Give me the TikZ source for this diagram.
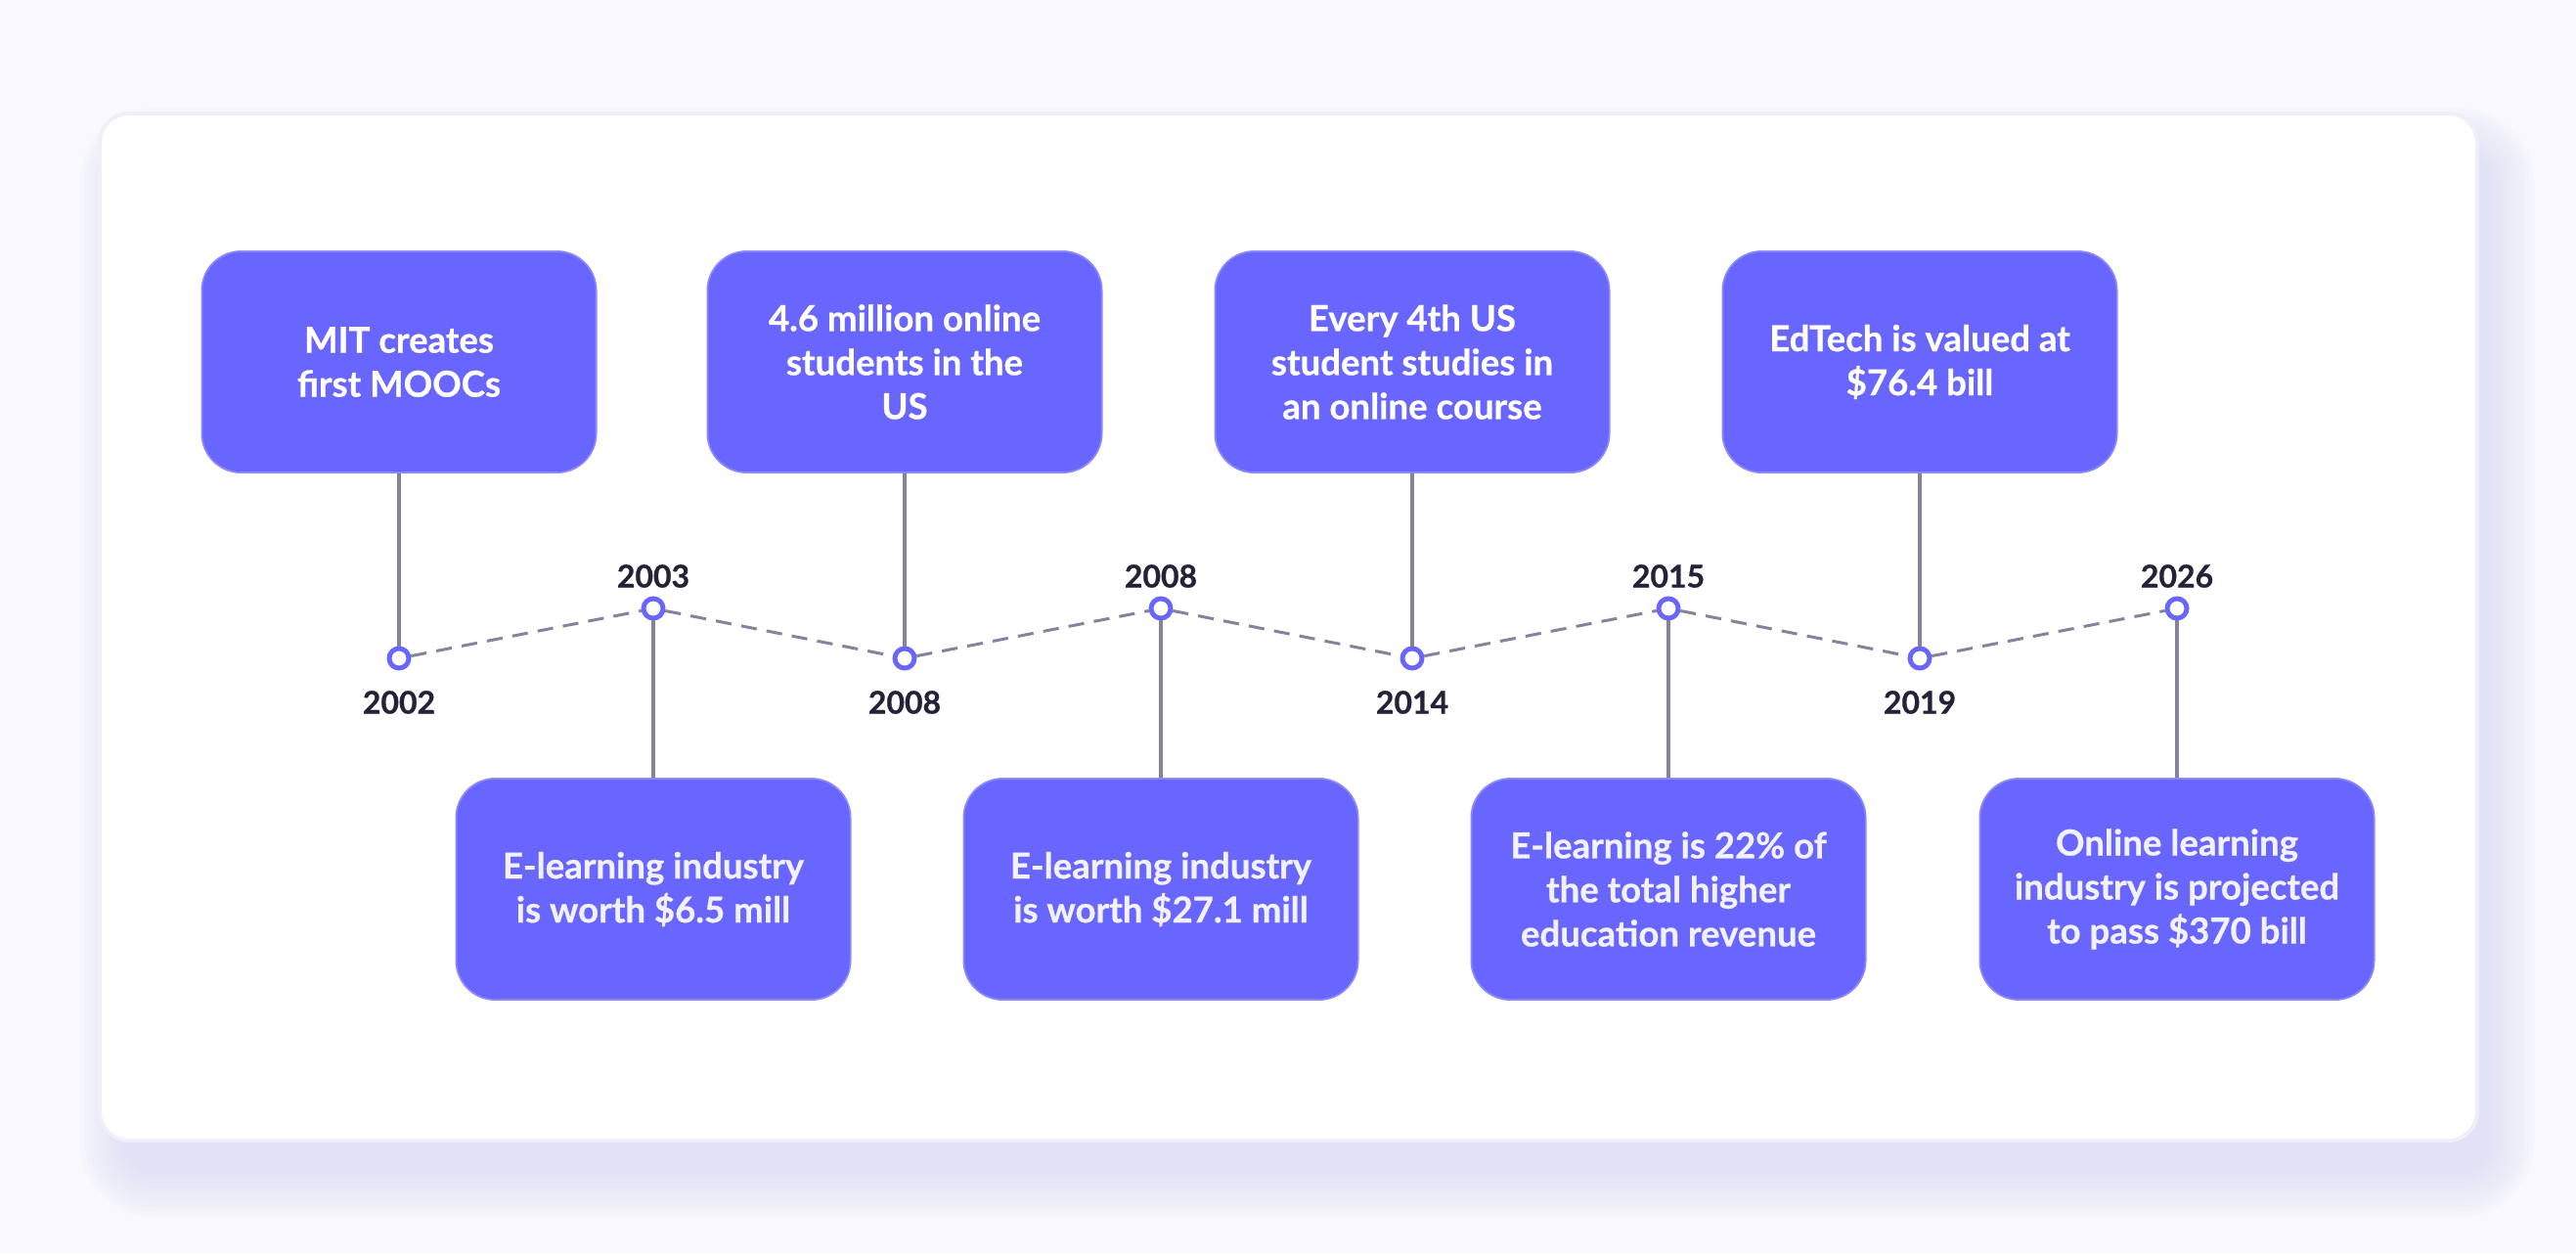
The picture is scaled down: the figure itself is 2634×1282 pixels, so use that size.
\documentclass[tikz,border=0pt]{standalone}
\usepackage{fontspec}
\setmainfont{Lato}[BoldFeatures={FakeBold=0.6}]
\definecolor{bgc}{HTML}{F8F8FD}
\definecolor{cardborder}{HTML}{EFEFF9}
\definecolor{shadowc}{HTML}{D6D6F6}
\definecolor{boxfill}{HTML}{6866FF}
\definecolor{boxdraw}{HTML}{8A88FF}
\definecolor{connc}{HTML}{85839C}
\definecolor{yearc}{HTML}{232238}
\definecolor{markc}{HTML}{6866FF}
\definecolor{btext}{HTML}{F2F1FF}
\tikzset{
  evbox/.style={rectangle, rounded corners=0.4cm, fill=boxfill, draw=boxdraw, line width=0.5pt,
    minimum width=4.03cm, minimum height=2.26cm, inner sep=0pt, align=center,
    font=\fontsize{10.4pt}{12.8pt}\selectfont\bfseries},
  topbox/.style={evbox, text=white},
  botbox/.style={evbox, text=btext},
  tlmarker/.style={circle, draw=markc, fill=white, line width=1.4pt, minimum size=0.2cm, inner sep=0pt},
  conn/.style={draw=connc, line width=1.15pt},
  dashc/.style={draw=connc, line width=0.85pt, dash pattern=on 4.6pt off 2.9pt},
  yearlbl/.style={text=yearc, font=\fontsize{9.1pt}{10pt}\selectfont\bfseries, inner sep=0pt}
}
\begin{document}
\begin{tikzpicture}[x=0.01cm,y=-0.01cm]
\useasboundingbox (0,0) rectangle (2634,1282);
\fill[bgc] (0,0) rectangle (2634,1282);
% shadow
\foreach \e in {45,40,...,0}{
  \fill[shadowc, opacity=0.075, rounded corners=0.3cm+\e*0.01cm]
    (127-\e,156-\e) rectangle (2546+\e,1199+\e);
}
% card
\draw[fill=white, draw=cardborder, line width=1.1pt, rounded corners=0.3cm] (102,116) rectangle (2533,1166);

% top boxes
\node[topbox] (t1) at (408,370) {MIT creates\\first MOOCs};
\node[topbox] (t2) at (925,370) {4.6 million online\\students in the\\US};
\node[topbox] (t3) at (1444,370) {Every 4th US\\student studies in\\an online course};
\node[topbox] (t4) at (1963,370) {EdTech is valued at\\\$76.4 bill};
% bottom boxes
\node[botbox] (b1) at (668,909) {E-learning industry\\is worth \$6.5 mill};
\node[botbox] (b2) at (1187,909) {E-learning industry\\is worth \$27.1 mill};
\node[botbox] (b3) at (1706,909) {E-learning is 22\% of\\the total higher\\education revenue};
\node[botbox] (b4) at (2226,909) {Online learning\\industry is projected\\to pass \$370 bill};

% markers
\node[tlmarker] (l1) at (408,673) {};
\node[tlmarker] (u1) at (668,622) {};
\node[tlmarker] (l2) at (925,673) {};
\node[tlmarker] (u2) at (1187,622) {};
\node[tlmarker] (l3) at (1444,673) {};
\node[tlmarker] (u3) at (1706,622) {};
\node[tlmarker] (l4) at (1963,673) {};
\node[tlmarker] (u4) at (2226,622) {};

% dashed timeline
\draw[dashc] (l1) -- (u1);
\draw[dashc] (u1) -- (l2);
\draw[dashc] (l2) -- (u2);
\draw[dashc] (u2) -- (l3);
\draw[dashc] (l3) -- (u3);
\draw[dashc] (u3) -- (l4);
\draw[dashc] (l4) -- (u4);

% connectors
\draw[conn] (t1) -- (l1);
\draw[conn] (t2) -- (l2);
\draw[conn] (t3) -- (l3);
\draw[conn] (t4) -- (l4);
\draw[conn] (u1) -- (b1);
\draw[conn] (u2) -- (b2);
\draw[conn] (u3) -- (b3);
\draw[conn] (u4) -- (b4);

% years
\node[yearlbl] (yl1) at (408,718) {2002};
\node[yearlbl] (yu1) at (668,589) {2003};
\node[yearlbl] (yl2) at (925,718) {2008};
\node[yearlbl] (yu2) at (1187,589) {2008};
\node[yearlbl] (yl3) at (1444,718) {2014};
\node[yearlbl] (yu3) at (1706,589) {2015};
\node[yearlbl] (yl4) at (1963,718) {2019};
\node[yearlbl] (yu4) at (2226,589) {2026};
\end{tikzpicture}
\end{document}
